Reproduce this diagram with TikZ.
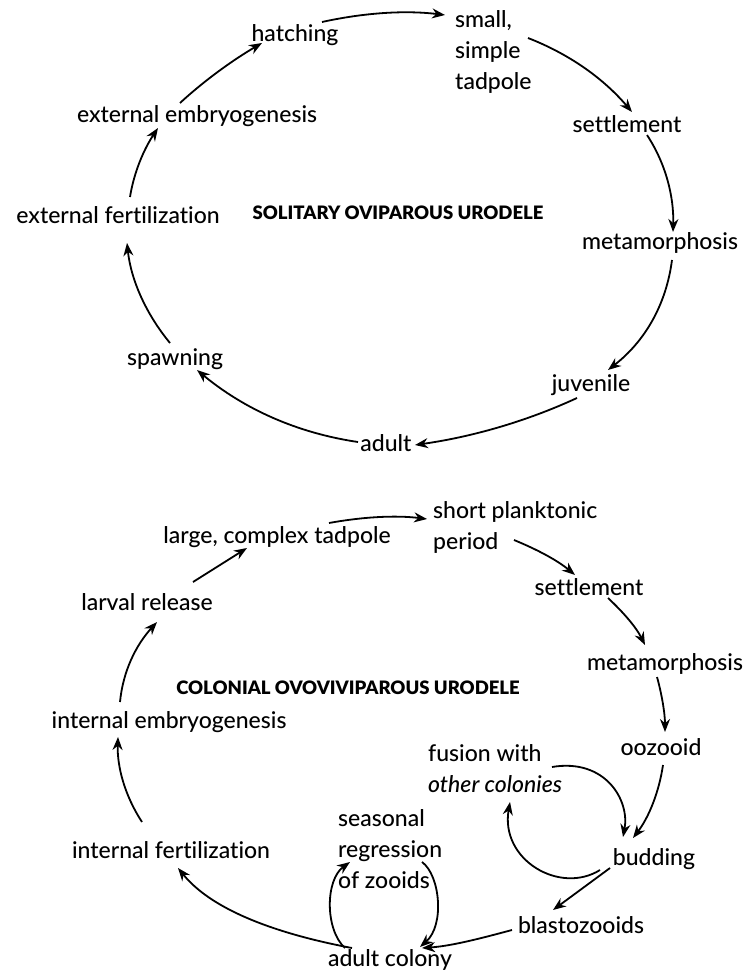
\documentclass[tikz,border=0pt]{standalone}
\usepackage{fontspec}
\setmainfont{Lato Medium}[Ligatures={NoCommon}, ItalicFont={Lato Medium Italic}, BoldFont={Lato Black}]
\usetikzlibrary{arrows.meta}
\tikzset{
  lab/.style={inner sep=0pt, font=\fontsize{23}{31}\selectfont, text height=20pt, text depth=4pt},
  blockl/.style={inner sep=0pt, font=\fontsize{23}{31}\selectfont, align=left, anchor=west},
  ttl/.style={inner sep=0pt, font=\fontsize{18.5}{21}\selectfont\bfseries},
  arr/.style={line width=1.8pt, -{Stealth[length=13pt,width=10pt]}},
}
\begin{document}
\begin{tikzpicture}[x=1pt,y=-1pt]
\useasboundingbox (0,0) rectangle (746,976);
% ---- top cycle ----
\node[lab] (hatch) at (295,34) {hatching};
\node[blockl] (small) at (455,52) {small,\\simple\\tadpole};
\node[lab] (settleA) at (627,125) {settlement};
\node[lab] (metaA) at (660,242) {metamorphosis};
\node[lab] (juv) at (591,383) {juvenile};
\node[lab] (adult) at (386,443) {adult};
\node[lab] (spawn) at (175,357) {spawning};
\node[lab] (extfert) at (118,216) {external fertilization};
\node[lab] (extemb) at (197,115) {external embryogenesis};
\node[ttl] (title1) at (398,213) {SOLITARY OVIPAROUS URODELE};

\draw[arr] ([shift={(27,-12)}]hatch.center) .. controls (363,13) and (404,10) .. ([shift={(-10,-37)}]small.west);
\draw[arr] ([shift={(73,-14)}]small.west) .. controls (569,54) and (603,78) .. ([shift={(5,-13)}]settleA.center);
\draw[arr] ([shift={(20,10)}]settleA.center) .. controls (666,164) and (674,197) .. ([shift={(13,-10)}]metaA.center);
\draw[arr] ([shift={(12,18)}]metaA.center) .. controls (666,306) and (644,342) .. ([shift={(17,-13)}]juv.center);
\draw[arr] ([shift={(-14,15)}]juv.center) .. controls (525,422) and (471,437) .. ([shift={(29,2)}]adult.center);
\draw[arr] ([shift={(-28,-1)}]adult.center) .. controls (297,433) and (244,409) .. ([shift={(22,13)}]spawn.center);
\draw[arr] ([shift={(-5,-14)}]spawn.center) .. controls (146,314) and (131,280) .. ([shift={(9,27)}]extfert.center);
\draw[arr] ([shift={(12,-19)}]extfert.center) .. controls (134,172) and (144,149) .. ([shift={(-39,13)}]extemb.center);
\draw[arr] ([shift={(-17,-12)}]extemb.center) .. controls (205,80) and (233,60) .. ([shift={(-33,9)}]hatch.center);

% ---- bottom cycle ----
\node[lab] (tad2) at (277,535) {large, complex tadpole};
\node[blockl] (plank) at (433,527) {short planktonic\\period};
\node[lab] (settleB) at (589,587) {settlement};
\node[lab] (metaB) at (665,662) {metamorphosis};
\node[lab] (ooz) at (661,747) {oozooid};
\node[lab] (bud) at (654,857) {budding};
\node[lab] (blasto) at (581,925) {blastozooids};
\node[lab] (adcol) at (390,958) {adult colony};
\node[blockl] (seas) at (338,849) {seasonal\\regression\\of zooids};
\node[blockl] (fusion) at (428,769) {fusion with\\\textit{other colonies}};
\node[lab] (intfert) at (171,850) {internal fertilization};
\node[lab] (intemb) at (169,720) {internal embryogenesis};
\node[lab] (larval) at (147,602) {larval release};
\node[ttl] (title2) at (348,688) {COLONIAL OVOVIVIPAROUS URODELE};

\draw[arr] ([shift={(52,-12)}]tad2.center) .. controls (362,517) and (395,515) .. ([shift={(-6,-8)}]plank.west);
\draw[arr] ([shift={(81,13)}]plank.west) .. controls (536,549) and (557,560) .. ([shift={(-14,-12)}]settleB.center);
\draw[arr] ([shift={(19,11)}]settleB.center) .. controls (623,612) and (636,627) .. ([shift={(-20,-17)}]metaB.center);
\draw[arr] ([shift={(-8,15)}]metaB.center) .. controls (662,695) and (665,714) .. ([shift={(4,-15)}]ooz.center);
\draw[arr] ([shift={(2,18)}]ooz.center) .. controls (659,792) and (649,817) .. ([shift={(-21,-19)}]bud.center);
\draw[arr] ([shift={(124,-2)}]fusion.west) .. controls (605,758) and (630,800) .. ([shift={(-31,-20)}]bud.center);
\draw[arr] ([shift={(-54,13)}]bud.center) .. controls (560,895) and (500,860) .. ([shift={(82,33)}]fusion.west);
\draw[arr] ([shift={(-44,11)}]bud.center) .. controls (591,882) and (572,896) .. ([shift={(-28,-15)}]blasto.center);
\draw[arr] ([shift={(-69,5)}]blasto.center) .. controls (482,938) and (452,946) .. ([shift={(32,-10)}]adcol.center);
\draw[arr] ([shift={(84,13)}]seas.west) .. controls (440,875) and (445,925) .. ([shift={(30,-11)}]adcol.center);
\draw[arr] ([shift={(-45,-10)}]adcol.center) .. controls (325,930) and (325,880) .. ([shift={(12,13)}]seas.west);
\draw[arr] ([shift={(-38,-10)}]adcol.center) .. controls (310,940) and (220,920) .. ([shift={(7,18)}]intfert.center);
\draw[arr] ([shift={(-29,-28)}]intfert.center) .. controls (125,796) and (117,767) .. ([shift={(-51,17)}]intemb.center);
\draw[arr] ([shift={(-49,-18)}]intemb.center) .. controls (123,671) and (136,645) .. ([shift={(10,20)}]larval.center);
\draw[arr] ([shift={(46,-20)}]larval.center) -- ([shift={(-30,13)}]tad2.center);
\end{tikzpicture}
\end{document}
